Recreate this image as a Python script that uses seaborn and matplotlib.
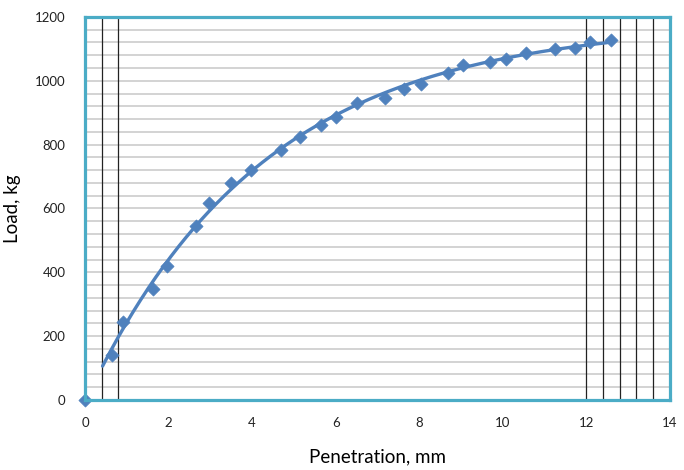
import numpy as np
import pandas as pd
import matplotlib
matplotlib.use("Agg")
import matplotlib.pyplot as plt
import seaborn as sns

# Measured penetration (mm) and load (kg)
penetration = [0.00, 0.65, 0.91, 1.63, 1.96, 2.66, 2.97, 3.49, 3.97, 4.69,
               5.14, 5.65, 6.00, 6.51, 7.18, 7.63, 8.04, 8.68, 9.04, 9.69,
               10.07, 10.55, 11.24, 11.72, 12.08, 12.58]
load = [0, 141, 245, 348, 420, 545, 618, 680, 721, 784,
        824, 862, 887, 931, 947, 975, 990, 1025, 1050, 1060,
        1069, 1088, 1100, 1103, 1122, 1128]

x_ticks = [0, 2, 4, 6, 8, 10, 12, 14]
y_ticks = [0, 200, 400, 600, 800, 1000, 1200]
marked_x = [0.4, 0.8, 12.0, 12.4, 12.8, 13.2, 13.6]

df = pd.DataFrame({"Penetration": penetration, "Load": load})

# Saturating trend  L = A * (1 - exp(-k (x - x0)))  fitted by least squares
xs = df["Penetration"].to_numpy()
ys = df["Load"].to_numpy()
best = None
for k in np.linspace(0.10, 0.45, 141):
    for x0 in np.linspace(-0.5, 0.5, 101):
        basis = 1 - np.exp(-k * (xs - x0))
        A = basis @ ys / (basis @ basis)
        sse = np.sum((A * basis - ys) ** 2)
        if best is None or sse < best[0]:
            best = (sse, A, k, x0)
_, A, k, x0 = best
fit_x = np.linspace(0.42, 12.5, 200)
fit = pd.DataFrame({"Penetration": fit_x,
                    "Load": A * (1 - np.exp(-k * (fit_x - x0)))})

sns.set_style("white")
plt.rcParams["font.family"] = ["Lato", "DejaVu Sans"]

blue = "#4f81bd"
teal = "#4bacc6"

fig = plt.figure(figsize=(6.84, 4.70), dpi=100)
ax = fig.add_axes([0.1243, 0.149, 0.855, 0.815])

# horizontal grid every 40 kg
for yv in range(40, 1200, 40):
    ax.axhline(yv, color="#c8c8c8", lw=1.1, zorder=1)
for xv in marked_x:
    ax.axvline(xv, color="#222222", lw=0.9, zorder=1.5)

sns.lineplot(data=fit, x="Penetration", y="Load", color=blue, lw=2.4,
             ax=ax, zorder=3)
sns.scatterplot(data=df, x="Penetration", y="Load", marker="D", s=45,
                color=blue, edgecolor=blue, linewidth=0.5, ax=ax,
                zorder=4, clip_on=False)

ax.set_xlim(0, 14)
ax.set_ylim(0, 1200)
ax.set_xticks(x_ticks)
ax.set_yticks(y_ticks)
ax.tick_params(axis="both", length=0, labelsize=9.5, colors="#222222")
ax.tick_params(axis="y", pad=14)
ax.tick_params(axis="x", pad=12)

for s in ax.spines.values():
    s.set_color(teal)
    s.set_linewidth(2.3)
    s.set_zorder(5)

ax.set_xlabel("Penetration, mm", fontsize=13.5, labelpad=14, color="black")
ax.set_ylabel("Load, kg", fontsize=13.5, labelpad=10, color="black")

fig.savefig("out.png", dpi=100)
